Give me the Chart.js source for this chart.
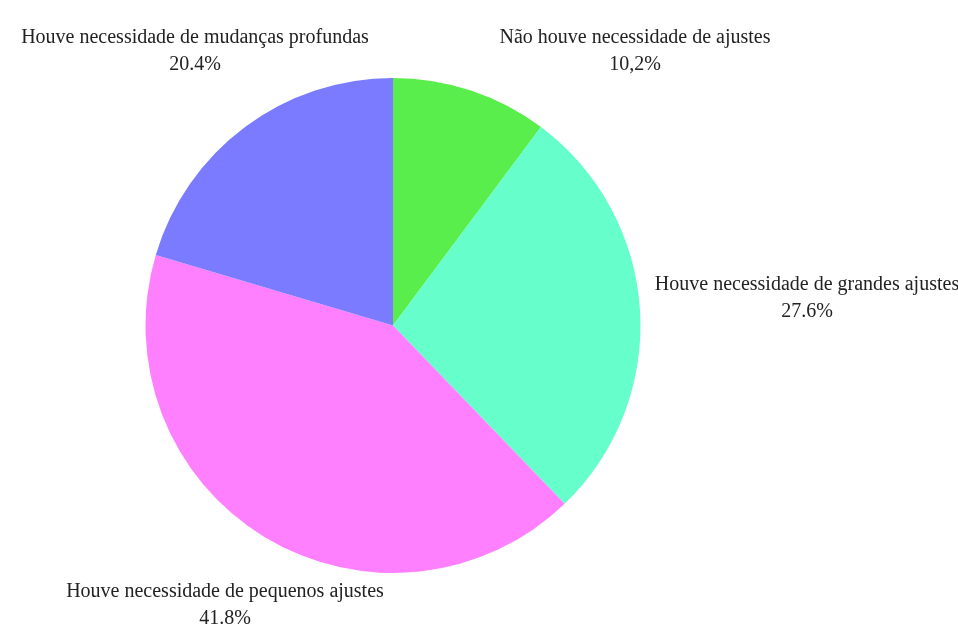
<!DOCTYPE html>
<html><head><meta charset="utf-8">
<script src="https://cdn.jsdelivr.net/npm/chart.js@4"></script>
<style>html,body{margin:0;padding:0;background:#fff;}#wrap{width:958px;height:635px;position:relative;}</style>
</head><body><div id="wrap"><canvas id="c" width="958" height="635"></canvas></div>
<script>
const categories = ["Não houve necessidade de ajustes","Houve necessidade de grandes ajustes","Houve necessidade de pequenos ajustes","Houve necessidade de mudanças profundas"];
const values = [10.2, 27.6, 41.8, 20.4];
const valueLabels = ["10,2%","27.6%","41.8%","20.4%"];
const colors = ["#59ee4b","#66ffcc","#ff80ff","#7b7bff"];
// label baseline anchors as offsets from pie centre (px)
const labelOffsets = [[242,-282.5],[414,-35.5],[-168,271.5],[-198,-282.5]];

const labelPlugin = {
  id:'outLabels',
  afterDraw(chart){
    const ctx = chart.ctx;
    const meta = chart.getDatasetMeta(0);
    ctx.save();
    ctx.font = '20px "Liberation Serif"';
    ctx.fillStyle = '#222';
    ctx.textAlign = 'center';
    ctx.textBaseline = 'alphabetic';
    meta.data.forEach((arc,i)=>{
      const x = arc.x + labelOffsets[i][0];
      const y = arc.y + labelOffsets[i][1];
      ctx.fillText(categories[i], x, y);
      ctx.fillText(valueLabels[i], x, y+27);
    });
    ctx.restore();
  }
};

new Chart(document.getElementById('c'),{
  type:'pie',
  data:{labels:categories,datasets:[{data:values,backgroundColor:colors,borderWidth:0}]},
  options:{
    responsive:false,animation:false,
    layout:{padding:{left:145,right:317,top:78,bottom:62}},
    plugins:{legend:{display:false},tooltip:{enabled:false}}
  },
  plugins:[labelPlugin]
});
</script></body></html>
